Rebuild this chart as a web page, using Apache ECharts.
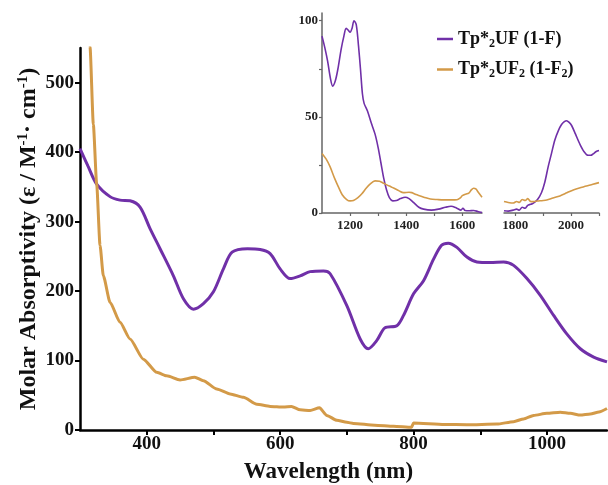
<!DOCTYPE html>
<html>
<head>
<meta charset="utf-8">
<script src="https://cdn.jsdelivr.net/npm/echarts@6.0.0/dist/echarts.min.js"></script>
<style>
  html,body{margin:0;padding:0;background:#fff;}
  #chart{width:608px;height:485px;}
</style>
</head>
<body>
<div id="chart"></div>
<script>
// main spectrum, 1-F (purple)
const f1Wl  = [300,312,325,345,360,375,390,405,420,440,455,470,485,500,515,528,551,570,585,600,615,630,645,665,675,700,720,732,745,757,775,785,800,815,830,842,852,865,880,895,915,935,950,970,990,1010,1030,1050,1070,1090]
const f1Abs = [405,380,354,336,331,330,321,290,261,222,189,174,182,199,232,256,261,260,254,232,218,222,228,229,225,179,131,117,129,147,150,165,196,215,246,266,269,263,249,242,241,242,237,218,194,165,138,117,105,98]

// main spectrum, 1-F2 (orange) - step at 800 nm
const f2Wl  = [300,308,315,320,325,330,335,345,360,375,395,415,430,450,472,485,505,525,545,565,585,605,617,630,645,659,670,685,700,710,742,770,797,800,846,880,925,950,965,980,1000,1020,1035,1050,1065,1078,1090]
const f2Abs = [900,700,552,440,354,266,222,184,155,131,102,83,78,72,76,71,59,52,47,37,34,33,34,29,28,32,21,14,11,9.5,7,5.5,4,10,8,7.5,8.5,12,16,21,24,25.5,24,21.5,23,26,31]

// inset, 1100-1670 nm
const inAWl  = [1100,1110,1120,1130,1138,1148,1158,1168,1178,1186,1194,1200,1207,1214,1222,1230,1237,1244,1250,1262,1275,1289,1300,1310,1320,1330,1340,1352,1365,1380,1396,1410,1426,1445,1462,1490,1515,1540,1560,1580,1595,1602,1610,1625,1640,1655,1670]
const inAF1  = [92,86,79,70,66,69,76,85,92,96,95,94,96,100,98,87,75,62,57,53,47,41,34,26,18,12,8,6.3,6.5,7.5,8.2,7.5,5.5,3,2,1.5,2,3,3.5,2.5,1.5,2.5,1.3,1.2,1.3,0.8,0.2]
const inAWl2 = [1100,1115,1129,1145,1158,1172,1188,1200,1212,1228,1242,1258,1271,1289,1305,1319,1340,1355,1375,1390,1410,1420,1435,1450,1470,1486,1510,1533,1560,1581,1592,1600,1612,1623,1632,1640,1648,1658,1670]
const inAF2  = [31,28,24,18,13.7,9.5,7,6.3,6.5,8,10,13,15,16.7,16.5,15.5,14,13,11.5,10.6,10.8,10.6,9.6,8.9,7.9,7.3,7,6.8,6.8,6.9,7.8,9,9.8,10.3,12,12.9,12.5,10.5,8.2]

// inset, 1760-2100 nm
const inBWl  = [1760,1775,1793,1805,1815,1825,1835,1845,1855,1864,1880,1894,1906,1918,1930,1942,1955,1966,1976,1984,1994,2002,2016,2031,2046,2061,2070,2079,2090,2100]
const inBF1  = [1.2,1,1.5,2,1.5,3,2.5,4,4.5,5,7,10.5,16,24,31,38,43,46,47.5,48,47,45.5,41,36,32,30,30,30.7,32,32.5]
const inBWl2 = [1760,1775,1793,1805,1815,1825,1836,1845,1855,1864,1880,1900,1913,1935,1960,1985,2008,2030,2055,2078,2100]
const inBF2  = [6,5.5,5.2,6,5.5,7,6.5,7.5,6,5.9,6.2,6.5,6.8,7.8,8.9,10.5,12,13,14,15,15.8]

const purple = "#7030a8"
const orange = "#d39a48"
const serif = "Liberation Serif"

function pairs(xs, ys){
  return xs.map((x,i)=>[x, ys[i]])
}
const plain = v => String(v)   // no thousands separator

let myChart = echarts.init(document.getElementById("chart"))

const mainAxisLine = {lineStyle:{color:"#000", width:2.5}}
const mainTick = {show:true, length:5, lineStyle:{color:"#000", width:2}}
const mainLabel = {fontFamily:serif, fontWeight:"bold", fontSize:19, color:"#111", formatter:plain}
const insetLine = {lineStyle:{color:"#666", width:1.5}}
const insetTick = {show:true, length:3, lineStyle:{color:"#666", width:1.2}}
const insetLabel = {fontFamily:serif, fontWeight:"bold", fontSize:13, color:"#222", formatter:plain}

myChart.setOption({
  animation:false,
  grid:[
    {left:80, top:48, width:527, height:382, outerBoundsMode:"none"},
    {left:322, top:13, width:160, height:200, outerBoundsMode:"none"},
    {left:504, top:13, width:95, height:200, outerBoundsMode:"none"}
  ],
  legend:{
    orient:"vertical",
    left:437, top:30, padding:0,
    icon:"rect",
    itemWidth:16, itemHeight:2.5, itemGap:11,
    data:["F","F2"],
    formatter:function(name){
      if(name==="F") return "{t|Tp*}{s|2}{t|UF (1-F)}"
      return "{t|Tp*}{s|2}{t|UF}{s|2}{t| (1-F}{s|2}{t|)}"
    },
    textStyle:{
      rich:{
        t:{fontFamily:serif, fontWeight:"bold", fontSize:18, color:"#111"},
        s:{fontFamily:serif, fontWeight:"bold", fontSize:12, color:"#111", padding:[9,0,0,0]}
      }
    }
  },
  xAxis:[
    {
      type:"value", gridIndex:0, min:300, max:1090,
      axisLine:mainAxisLine,
      axisTick:Object.assign({customValues:[400,500,600,700,800,900,1000]}, mainTick),
      axisLabel:Object.assign({customValues:[400,600,800,1000], margin:5}, mainLabel),
      splitLine:{show:false},
      name:"Wavelength (nm)", nameLocation:"middle", nameGap:31,
      nameTextStyle:{fontFamily:serif, fontWeight:"bold", fontSize:23, color:"#111", padding:[0,30,0,0]}
    },
    {
      type:"value", gridIndex:1, min:1100, max:1670,
      axisLine:insetLine,
      axisTick:Object.assign({customValues:[1200,1300,1400,1500,1600]}, insetTick),
      axisLabel:Object.assign({customValues:[1200,1400,1600], margin:6}, insetLabel),
      splitLine:{show:false}
    },
    {
      type:"value", gridIndex:2, min:1760, max:2100,
      axisLine:insetLine,
      axisTick:Object.assign({customValues:[1800,1900,2000,2100]}, insetTick),
      axisLabel:Object.assign({customValues:[1800,2000], margin:6}, insetLabel),
      splitLine:{show:false}
    }
  ],
  yAxis:[
    {
      type:"value", gridIndex:0, min:0, max:550,
      axisLine:Object.assign({show:true}, mainAxisLine),
      axisTick:Object.assign({customValues:[0,100,200,300,400,500]}, mainTick),
      axisLabel:Object.assign({customValues:[0,100,200,300,400,500], margin:6}, mainLabel),
      splitLine:{show:false},
      name:"{t|Molar Absorptivity (ε / M}{p|-1}{t|· cm}{p|-1}{t|)}",
      nameLocation:"middle", nameGap:38, nameMoveOverlap:false,
      nameTextStyle:{
        rich:{
          t:{fontFamily:serif, fontWeight:"bold", fontSize:24, color:"#111"},
          p:{fontFamily:serif, fontWeight:"bold", fontSize:15, color:"#111", padding:[0,0,11,0]}
        }
      }
    },
    {
      type:"value", gridIndex:1, min:0, max:104,
      axisLine:Object.assign({show:true}, insetLine),
      axisTick:Object.assign({customValues:[0,25,50,75,100]}, insetTick),
      axisLabel:Object.assign({customValues:[0,50,100], margin:4}, insetLabel),
      splitLine:{show:false}
    },
    {
      type:"value", gridIndex:2, min:0, max:104, show:false
    }
  ],
  series:[
    {
      name:"F", type:"line", xAxisIndex:0, yAxisIndex:0,
      data:pairs(f1Wl,f1Abs), symbol:"none", smooth:0.3,
      lineStyle:{color:purple, width:3}, itemStyle:{color:purple}
    },
    {
      name:"F2", type:"line", xAxisIndex:0, yAxisIndex:0,
      data:pairs(f2Wl,f2Abs), symbol:"none", smooth:0.2, smoothMonotone:"x",
      lineStyle:{color:orange, width:3}, itemStyle:{color:orange}
    },
    {
      name:"F", type:"line", xAxisIndex:1, yAxisIndex:1,
      data:pairs(inAWl,inAF1), symbol:"none", smooth:0.3,
      lineStyle:{color:purple, width:1.6}
    },
    {
      name:"F2", type:"line", xAxisIndex:1, yAxisIndex:1,
      data:pairs(inAWl2,inAF2), symbol:"none", smooth:0.3,
      lineStyle:{color:orange, width:1.6}
    },
    {
      name:"F", type:"line", xAxisIndex:2, yAxisIndex:2,
      data:pairs(inBWl,inBF1), symbol:"none", smooth:0.3,
      lineStyle:{color:purple, width:1.6}
    },
    {
      name:"F2", type:"line", xAxisIndex:2, yAxisIndex:2,
      data:pairs(inBWl2,inBF2), symbol:"none", smooth:0.3,
      lineStyle:{color:orange, width:1.6}
    }
  ]
})
</script>
</body>
</html>
